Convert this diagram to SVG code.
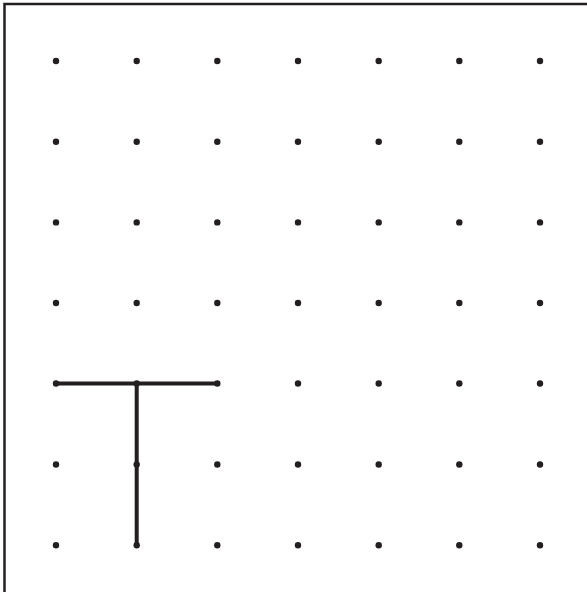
<svg xmlns="http://www.w3.org/2000/svg" width="587" height="592" viewBox="0 0 587 592">
<style>
.dot{fill:#231f20}
.seg{stroke:#231f20;stroke-width:4;stroke-linecap:round;fill:none}
.frame{stroke:#231f20;stroke-width:2.5;fill:none}
</style>
<rect width="587" height="592" fill="#fff"/>
<path class="frame" d="M4.5 595 V4 H600"/>
<g id="connectors">
<line class="seg" x1="56" y1="383.5" x2="217.5" y2="383.5"/>
<line class="seg" x1="136.7" y1="383.5" x2="136.7" y2="545"/>
</g>
<g id="grid">
<g id="r0"><circle class="dot" cx="56" cy="61" r="3.2"/><circle class="dot" cx="136.7" cy="61" r="3.2"/><circle class="dot" cx="217.3" cy="61" r="3.2"/><circle class="dot" cx="298" cy="61" r="3.2"/><circle class="dot" cx="378.7" cy="61" r="3.2"/><circle class="dot" cx="459.3" cy="61" r="3.2"/><circle class="dot" cx="540" cy="61" r="3.2"/></g>
<g id="r1"><circle class="dot" cx="56" cy="141.7" r="3.2"/><circle class="dot" cx="136.7" cy="141.7" r="3.2"/><circle class="dot" cx="217.3" cy="141.7" r="3.2"/><circle class="dot" cx="298" cy="141.7" r="3.2"/><circle class="dot" cx="378.7" cy="141.7" r="3.2"/><circle class="dot" cx="459.3" cy="141.7" r="3.2"/><circle class="dot" cx="540" cy="141.7" r="3.2"/></g>
<g id="r2"><circle class="dot" cx="56" cy="222.4" r="3.2"/><circle class="dot" cx="136.7" cy="222.4" r="3.2"/><circle class="dot" cx="217.3" cy="222.4" r="3.2"/><circle class="dot" cx="298" cy="222.4" r="3.2"/><circle class="dot" cx="378.7" cy="222.4" r="3.2"/><circle class="dot" cx="459.3" cy="222.4" r="3.2"/><circle class="dot" cx="540" cy="222.4" r="3.2"/></g>
<g id="r3"><circle class="dot" cx="56" cy="303" r="3.2"/><circle class="dot" cx="136.7" cy="303" r="3.2"/><circle class="dot" cx="217.3" cy="303" r="3.2"/><circle class="dot" cx="298" cy="303" r="3.2"/><circle class="dot" cx="378.7" cy="303" r="3.2"/><circle class="dot" cx="459.3" cy="303" r="3.2"/><circle class="dot" cx="540" cy="303" r="3.2"/></g>
<g id="r4"><circle class="dot" cx="56" cy="383.5" r="3.2"/><circle class="dot" cx="136.7" cy="383.5" r="3.2"/><circle class="dot" cx="217.3" cy="383.5" r="3.2"/><circle class="dot" cx="298" cy="383.5" r="3.2"/><circle class="dot" cx="378.7" cy="383.5" r="3.2"/><circle class="dot" cx="459.3" cy="383.5" r="3.2"/><circle class="dot" cx="540" cy="383.5" r="3.2"/></g>
<g id="r5"><circle class="dot" cx="56" cy="464.5" r="3.2"/><circle class="dot" cx="136.7" cy="464.5" r="3.2"/><circle class="dot" cx="217.3" cy="464.5" r="3.2"/><circle class="dot" cx="298" cy="464.5" r="3.2"/><circle class="dot" cx="378.7" cy="464.5" r="3.2"/><circle class="dot" cx="459.3" cy="464.5" r="3.2"/><circle class="dot" cx="540" cy="464.5" r="3.2"/></g>
<g id="r6"><circle class="dot" cx="56" cy="545.2" r="3.2"/><circle class="dot" cx="136.7" cy="545.2" r="3.2"/><circle class="dot" cx="217.3" cy="545.2" r="3.2"/><circle class="dot" cx="298" cy="545.2" r="3.2"/><circle class="dot" cx="378.7" cy="545.2" r="3.2"/><circle class="dot" cx="459.3" cy="545.2" r="3.2"/><circle class="dot" cx="540" cy="545.2" r="3.2"/></g>
</g>
</svg>
